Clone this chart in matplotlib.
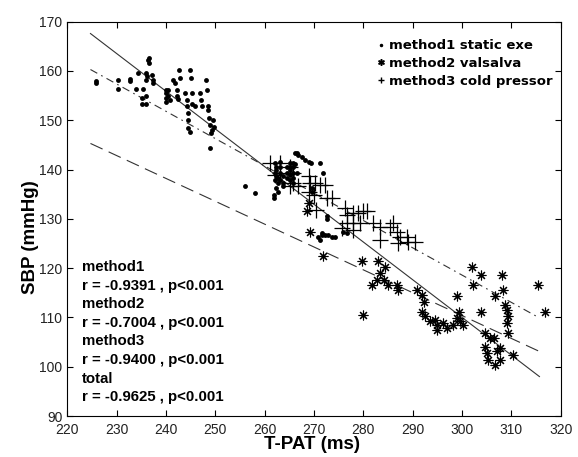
import numpy as np
import matplotlib.pyplot as plt
from matplotlib.lines import Line2D

plt.rcParams['font.family'] = ['Liberation Sans', 'DejaVu Sans']

# method1 static exe (dots)
m1_x = [225.9, 225.9, 230.3, 230.3, 232.8, 232.8, 233.9, 234.4, 235.1, 235.1, 235.4, 235.9, 235.9,
        235.9, 235.9, 236.2, 236.4, 236.6, 236.6, 237.1, 237.3, 237.3,
        240.0, 240.0, 240.0, 240.0, 240.5, 240.8, 240.5,
        241.5, 241.8, 242.2, 242.3, 242.5, 242.7, 242.8,
        243.9, 244.2, 244.2, 244.5, 244.5, 244.9, 245.0, 245.2, 245.2, 244.5, 244.9,
        245.9, 246.9, 247.2, 247.4,
        248.2, 248.4, 248.6, 248.6, 248.8, 248.9, 249.1, 249.6, 249.7, 249.3, 248.9,
        256.1, 258.0, 261.8, 261.8, 262.4, 262.8,
        262.1, 262.4, 262.4, 262.1, 262.4, 262.8, 262.1, 262.8, 263.1, 263.1, 263.1, 263.1,
        263.8, 263.8, 263.8, 264.5, 264.5, 264.5, 265.1, 265.1, 265.1, 265.1, 265.1,
        265.8, 265.8, 265.8, 265.8, 265.8, 266.1, 266.5,
        266.1, 266.5, 266.8, 267.5, 268.2, 268.9, 269.3, 271.2, 271.9, 269.5, 269.5,
        270.9, 271.2, 271.6, 272.2, 272.9, 273.6, 274.3, 272.6, 272.6, 271.6, 275.9, 276.6]
m1_y = [158.0, 157.5, 158.2, 156.3, 158.3, 158.0, 156.3, 159.5, 154.5, 153.4, 156.3, 155.0, 153.4,
        159.5, 158.2, 158.9, 162.2, 162.6, 161.6, 159.2, 158.2, 157.5,
        156.1, 155.5, 154.5, 153.8, 156.1, 154.1, 155.0,
        158.2, 157.5, 156.1, 154.9, 154.3, 160.2, 158.5,
        155.5, 154.1, 152.8, 151.4, 150.1, 160.2, 158.5, 155.5, 153.4, 148.4, 147.7,
        152.8, 155.5, 154.1, 152.8,
        158.2, 156.1, 152.8, 152.1, 150.4, 149.1, 147.4, 150.1, 148.6, 148.0, 144.3,
        136.6, 135.3, 134.3, 134.9, 136.2, 135.5,
        141.3, 140.6, 139.9, 139.3, 138.6, 138.2, 137.9, 137.2, 141.6, 140.6, 139.3, 137.9,
        138.6, 137.2, 136.6, 139.3, 138.2, 140.6, 141.3, 140.6, 139.9, 138.9, 137.9,
        141.3, 140.6, 139.3, 138.2, 137.2, 141.1, 139.3,
        143.3, 143.3, 143.0, 142.6, 142.0, 141.6, 141.3, 141.3, 139.4, 135.5, 136.2,
        126.4, 125.7, 127.1, 126.8, 126.8, 126.4, 126.4, 130.5, 129.9, 126.8, 127.3, 127.2]

# method2 valsalva (asterisks)
m2_x = [268.9, 268.6, 269.2, 271.9, 279.7, 280.0, 281.7, 282.7, 283.0, 283.4, 284.4, 284.1,
        285.1, 286.8, 287.1, 290.8, 291.8, 292.2, 291.8, 292.5, 293.5, 294.5, 294.9, 294.9,
        296.2, 296.9, 298.2, 298.9, 299.3, 299.6, 300.3, 298.9, 302.0, 302.3, 303.8, 303.8,
        304.7, 304.7, 305.0, 305.3, 305.7, 306.4, 306.7, 307.0, 307.7, 306.7, 307.7,
        308.2, 308.4, 308.7, 309.1, 309.4, 309.1, 309.4, 310.4, 315.5, 316.8]
m2_y = [133.3, 131.5, 127.4, 122.4, 121.4, 110.5, 116.6, 117.6, 121.4, 119.0, 120.3, 117.6,
        116.6, 116.6, 115.6, 115.6, 114.6, 113.2, 111.2, 110.2, 109.2, 109.5, 108.5, 107.5,
        108.9, 107.8, 108.5, 109.9, 111.2, 109.2, 108.5, 114.3, 120.3, 116.6, 118.6, 111.2,
        106.8, 104.1, 102.8, 101.4, 105.8, 105.8, 100.4, 103.1, 103.8, 114.3, 101.4,
        118.6, 115.6, 112.6, 111.6, 110.2, 108.9, 106.8, 102.4, 116.6, 111.2]

# method3 cold pressor (plus)
m3_x = [261.1, 263.1, 262.1, 263.1, 265.1, 265.8, 265.8, 265.1, 266.8, 268.9, 269.2, 270.2,
        271.2, 272.2, 268.9, 270.0, 272.6, 273.6, 270.5, 276.3, 276.6, 278.0, 279.0, 280.0,
        280.7, 276.6, 278.0, 279.3, 275.6, 278.0, 283.4, 283.4, 285.4, 286.1, 286.8, 287.4,
        288.8, 289.1, 290.5, 287.1, 282.0]
m3_y = [141.3, 141.3, 138.9, 139.3, 140.6, 139.3, 137.2, 136.6, 136.6, 138.6, 137.2, 137.2,
        136.9, 136.9, 135.5, 134.9, 134.2, 134.2, 131.8, 132.2, 130.8, 131.1, 131.1, 131.5,
        131.5, 129.1, 129.1, 129.1, 128.1, 127.8, 128.4, 125.7, 128.4, 129.1, 127.4, 126.4,
        126.4, 125.4, 125.4, 125.1, 129.1]

# regression lines: (y at x_start, y at x_end)
fit_x = [224.7, 315.7]
fit_solid = [167.6, 98.0]
fit_dashdot = [160.3, 109.9]
fit_dashed = [145.3, 103.1]

stats = ["method1", "r = -0.9391 , p<0.001",
         "method2", "r = -0.7004 , p<0.001",
         "method3", "r = -0.9400 , p<0.001",
         "total", "r = -0.9625 , p<0.001"]

fig = plt.figure(figsize=(5.78, 4.57), dpi=100)
ax = fig.add_axes([0.1164, 0.0897, 0.8536, 0.8628])

ax.plot(fit_x, fit_solid, '-', color='#333333', lw=0.8)
ax.plot(fit_x, fit_dashdot, color='#333333', lw=0.8, dashes=[7, 4, 1.5, 4])
ax.plot(fit_x, fit_dashed, color='#333333', lw=0.8, dashes=[12, 6])

ax.plot(m1_x, m1_y, 'o', color='black', ms=3.5, mew=0)
ax.plot(m3_x, m3_y, '+', color='black', ms=11, mew=0.9)
ax.plot(m2_x, m2_y, ls='none', marker=(8, 2, 0), color='black', ms=7, mew=0.8)
ax.plot(m2_x, m2_y, 'o', color='black', ms=2.5, mew=0)

ax.set_xlim(220, 320)
ax.set_ylim(90, 170)
ax.set_xticks(np.arange(220, 321, 10))
ax.set_yticks(np.arange(90, 171, 10))
ax.tick_params(direction='in', top=True, right=True, length=4, labelsize=10,
               labelcolor='#222222')
ax.tick_params(axis='x', pad=5)
ax.set_xlabel('T-PAT (ms)', fontsize=13.5, fontweight='bold')
ax.set_ylabel('SBP (mmHg)', fontsize=13.5, fontweight='bold')
ax.xaxis.set_label_coords(0.496, -0.05)
ax.yaxis.set_label_coords(-0.058, 0.454)

bold = {'family': 'DejaVu Sans', 'weight': 'bold', 'size': 9.5}
handles = [Line2D([], [], ls='none', marker='.', color='black', ms=3),
           Line2D([], [], ls='none', marker='$*$', color='black', ms=4),
           Line2D([], [], ls='none', marker='+', color='black', ms=4)]
ax.legend(handles, ['method1 static exe', 'method2 valsalva', 'method3 cold pressor'],
          loc='upper right', frameon=False, prop=bold,
          handlelength=0.4, handletextpad=0.4, labelspacing=0.35,
          borderaxespad=0.2, bbox_to_anchor=(1.0, 0.975))

for i, s in enumerate(stats):
    ax.text(222.9, 120.2 - i * 3.77, s, fontsize=10.8, fontweight='bold',
            family='Liberation Sans', va='center')

fig.savefig('out.png', dpi=100)
